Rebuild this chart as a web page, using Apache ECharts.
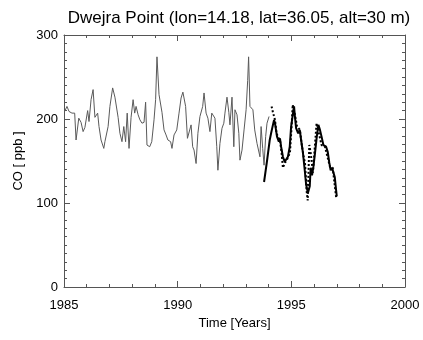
<!DOCTYPE html>
<html>
<head>
<meta charset="utf-8">
<script src="https://cdn.jsdelivr.net/npm/echarts@6/dist/echarts.min.js"></script>
<style>
  html, body { margin: 0; padding: 0; background: #fff; }
  #chart { width: 423px; height: 340px; }
</style>
</head>
<body>
<div id="chart"></div>
<script>
// Monthly CO record, Dwejra Point (decimal year, ppb)
const grayYears = [1985.03,1985.13,1985.22,1985.35,1985.47,1985.53,1985.65,1985.75,1985.84,1985.92,
  1986.04,1986.10,1986.19,1986.28,1986.36,1986.48,1986.54,1986.63,1986.75,1986.80,1986.94,
  1987.02,1987.14,1987.24,1987.38,1987.46,1987.55,1987.63,1987.71,1987.78,1987.86,1987.95,
  1988.04,1988.11,1988.17,1988.26,1988.34,1988.43,1988.52,1988.59,1988.65,1988.77,1988.86,1988.96,
  1989.03,1989.09,1989.18,1989.25,1989.31,1989.40,1989.49,1989.57,1989.69,1989.75,1989.84,1989.96,
  1990.06,1990.15,1990.23,1990.35,1990.43,1990.50,1990.59,1990.66,1990.72,1990.81,1990.89,1990.98,
  1991.10,1991.16,1991.25,1991.33,1991.42,1991.50,1991.55,1991.64,1991.72,1991.77,1991.86,1991.95,
  1992.03,1992.08,1992.17,1992.25,1992.30,1992.39,1992.47,1992.52,1992.61,1992.69,1992.74,1992.83,1992.92,
  1993.01,1993.08,1993.12,1993.18,1993.31,1993.39,1993.49,1993.56,1993.62,1993.67,1993.74,1993.80,1993.87,1993.93,1994.02];
const grayValues = [209,215,209,207,207,175,201,196,185,190,
  210,197,223,235,202,207,191,175,165,173,191,
  215,237,226,202,183,173,191,173,207,165,202,
  223,207,215,205,199,195,196,220,169,167,173,199,
  223,274,229,231,208,187,181,175,173,165,181,187,
  207,225,232,215,177,175,193,167,163,147,183,203,
  215,231,207,201,185,207,205,201,167,139,171,189,
  195,207,226,208,193,226,167,211,205,183,151,163,187,
  211,246,274,215,211,187,171,173,155,191,165,145,179,195,203];

// Continuous measurements, smoothed (thick solid)
const solidYears = [1993.80,1993.93,1994.05,1994.11,1994.24,1994.28,1994.37,1994.45,1994.50,1994.55,1994.63,1994.71,1994.77,1994.85,1994.93,1994.99,
  1995.08,1995.12,1995.15,1995.21,1995.30,1995.37,1995.43,1995.51,1995.59,1995.65,1995.73,1995.81,1995.85,1995.91,1995.97,
  1996.04,1996.12,1996.19,1996.26,1996.33,1996.41,1996.53,1996.60,1996.67,1996.73,1996.79,1996.85,1996.91,1996.97,1997.00];
const solidValues = [125,150,175,183,199,195,179,173,177,167,155,149,149,155,167,191,
  208,215,205,189,183,187,175,160,139,122,112,120,142,133,143,
  159,179,193,187,179,169,167,161,148,139,142,142,131,115,108];

// Continuous measurements, second record (dotted)
const dotYears = [1994.13,1994.19,1994.28,1994.35,1994.42,1994.50,1994.57,1994.63,1994.72,1994.80,1994.94,
  1995.01,1995.06,1995.16,1995.25,1995.38,1995.46,1995.54,1995.60,1995.67,1995.72,1995.79,1995.85,1995.95,
  1996.11,1996.19,1996.33,1996.48,1996.70,1996.82,1996.97];
const dotValues = [215,208,199,183,178,175,160,142,148,151,160,
  190,217,205,191,187,169,155,148,115,103,169,160,136,
  195,196,169,167,143,142,107];

const xTicks = { min: 1985, max: 2000, interval: 5 };
const yTicks = { min: 0, max: 300, interval: 100 };

const pair = (xs, ys) => xs.map((x, i) => [x, ys[i]]);

const font = 'Liberation Sans, Arial, Helvetica, sans-serif';
const axisColor = '#555';

function xAxis(pos, showLabels) {
  return {
    type: 'value', position: pos, min: xTicks.min, max: xTicks.max, interval: xTicks.interval,
    name: showLabels ? 'Time [Years]' : '', nameLocation: 'middle', nameGap: 30,
    nameTextStyle: { color: '#000', fontSize: 13, fontFamily: font },
    axisLine: { show: true, onZero: false, lineStyle: { color: axisColor, width: 1 } },
    axisTick: { show: true, inside: true, length: 6, lineStyle: { color: axisColor } },
    minorTick: { show: true, splitNumber: 5, length: 3, lineStyle: { color: axisColor } },
    axisLabel: { show: showLabels, color: '#000', fontSize: 13, fontFamily: font, margin: 12,
      formatter: v => String(v) },
    splitLine: { show: false }
  };
}
function yAxis(pos, showLabels) {
  return {
    type: 'value', position: pos, min: yTicks.min, max: yTicks.max, interval: yTicks.interval,
    name: showLabels ? 'CO [ ppb ]' : '', nameLocation: 'middle', nameGap: 30, nameRotate: 90,
    nameTextStyle: { color: '#000', fontSize: 13, fontFamily: font },
    axisLine: { show: true, onZero: false, lineStyle: { color: axisColor, width: 1 } },
    axisTick: { show: true, inside: true, length: 6, lineStyle: { color: axisColor } },
    minorTick: { show: true, splitNumber: 10, length: 3, lineStyle: { color: axisColor } },
    axisLabel: { show: showLabels, color: '#000', fontSize: 13, fontFamily: font, margin: 6 },
    splitLine: { show: false }
  };
}

const chart = echarts.init(document.getElementById('chart'), null, { renderer: 'canvas' });
chart.setOption({
  animation: false,
  backgroundColor: '#fff',
  title: {
    text: 'Dwejra Point (lon=14.18, lat=36.05, alt=30 m)',
    left: 234, top: 5, textAlign: 'center',
    textStyle: { color: '#000', fontSize: 17, fontWeight: 'normal', fontFamily: font }
  },
  grid: { left: 64, right: 18, top: 35, bottom: 53 },
  xAxis: [xAxis('bottom', true), xAxis('top', false)],
  yAxis: [yAxis('left', true), yAxis('right', false)],
  series: [
    {
      type: 'line', data: pair(grayYears, grayValues), symbol: 'none',
      lineStyle: { color: '#5a5a5a', width: 1 }, z: 2
    },
    {
      type: 'line', data: pair(solidYears, solidValues), symbol: 'none',
      lineStyle: { color: '#000', width: 2 }, z: 3
    },
    {
      type: 'line', data: pair(dotYears, dotValues), symbol: 'none',
      lineStyle: { color: '#000', width: 2, type: [2, 2] }, z: 4
    }
  ]
});
</script>
</body>
</html>
